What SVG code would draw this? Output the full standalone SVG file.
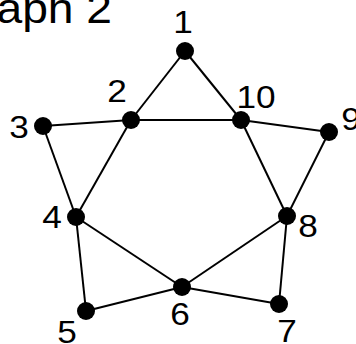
<svg xmlns="http://www.w3.org/2000/svg" width="356" height="344" viewBox="0 0 356 344">
<style>
.edge{stroke:#000;stroke-width:2;fill:none}
.node{fill:#000}
.lbl{font-family:"Liberation Sans",Arial,sans-serif;font-size:32px;fill:#000;text-anchor:middle}
.title{font-family:"Liberation Sans",Arial,sans-serif;font-size:42px;fill:#000;text-anchor:end}
</style>
<rect width="356" height="344" fill="#fff"/>
<text class="title" transform="translate(112,23) scale(1.1,1)">Graph 2</text>
<g id="edges">
<line class="edge" x1="185" y1="51" x2="131" y2="120"/>
<line class="edge" x1="185" y1="51" x2="241" y2="120"/>
<line class="edge" x1="131" y1="120" x2="241" y2="120"/>
<line class="edge" x1="131" y1="120" x2="43" y2="126"/>
<line class="edge" x1="43" y1="126" x2="76" y2="217"/>
<line class="edge" x1="131" y1="120" x2="76" y2="217"/>
<line class="edge" x1="241" y1="120" x2="329" y2="132"/>
<line class="edge" x1="329" y1="132" x2="287" y2="216"/>
<line class="edge" x1="241" y1="120" x2="287" y2="216"/>
<line class="edge" x1="76" y1="217" x2="182" y2="287"/>
<line class="edge" x1="76" y1="217" x2="86" y2="311"/>
<line class="edge" x1="86" y1="311" x2="182" y2="287"/>
<line class="edge" x1="182" y1="287" x2="287" y2="216"/>
<line class="edge" x1="182" y1="287" x2="279" y2="304"/>
<line class="edge" x1="279" y1="304" x2="287" y2="216"/>
</g>
<g id="n1"><circle class="node" cx="185" cy="51" r="9"/><text class="lbl" transform="translate(183,33) scale(1.1,1)">1</text></g>
<g id="n2"><circle class="node" cx="131" cy="120" r="9"/><text class="lbl" transform="translate(117,102) scale(1.1,1)">2</text></g>
<g id="n10"><circle class="node" cx="241" cy="120" r="9"/><text class="lbl" transform="translate(256,108) scale(1.1,1)">10</text></g>
<g id="n3"><circle class="node" cx="43" cy="126" r="9"/><text class="lbl" transform="translate(19,138) scale(1.1,1)">3</text></g>
<g id="n9"><circle class="node" cx="329" cy="132" r="9"/><text class="lbl" transform="translate(351,130) scale(1.1,1)">9</text></g>
<g id="n4"><circle class="node" cx="76" cy="217" r="9"/><text class="lbl" transform="translate(52,228) scale(1.1,1)">4</text></g>
<g id="n8"><circle class="node" cx="287" cy="216" r="9"/><text class="lbl" transform="translate(308,237) scale(1.1,1)">8</text></g>
<g id="n5"><circle class="node" cx="86" cy="311" r="9"/><text class="lbl" transform="translate(67,343) scale(1.1,1)">5</text></g>
<g id="n6"><circle class="node" cx="182" cy="287" r="9"/><text class="lbl" transform="translate(180,325) scale(1.1,1)">6</text></g>
<g id="n7"><circle class="node" cx="279" cy="304" r="9"/><text class="lbl" transform="translate(287,342) scale(1.1,1)">7</text></g>
</svg>
